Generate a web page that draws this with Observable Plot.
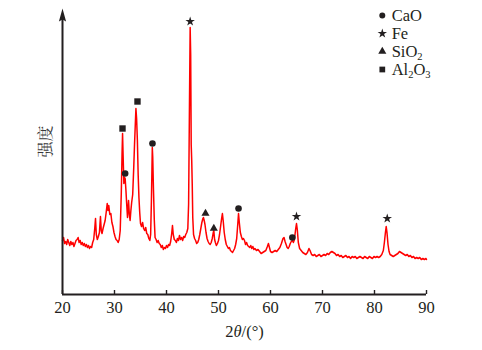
<!DOCTYPE html>
<html>
<head>
<meta charset="utf-8">
<script src="https://cdn.jsdelivr.net/npm/d3@7"></script>
<script src="https://cdn.jsdelivr.net/npm/@observablehq/plot@0.6"></script>
<style>
  html, body { margin: 0; padding: 0; background: #fff; }
  #chart { width: 482px; height: 350px; }
</style>
</head>
<body>
<div id="chart"></div>
<script>
// X-ray diffraction pattern: 2θ (degrees) and intensity (arbitrary units)
const twoTheta = [
  20.0,20.2,20.4,20.6,20.8,21.0,21.2,21.4,21.6,21.8,22.0,22.2,22.4,22.6,22.8,23.0,23.2,23.4,23.6,23.8,
  24.0,24.2,24.4,24.6,24.8,25.0,25.2,25.4,25.6,25.8,26.0,26.2,26.35,26.5,26.7,26.9,27.1,27.3,27.45,27.6,
  27.8,28.0,28.2,28.4,28.6,28.75,28.9,29.1,29.3,29.5,29.7,29.9,30.1,30.3,30.5,30.7,30.9,31.1,31.3,31.45,
  31.55,31.65,31.8,31.95,32.05,32.2,32.35,32.5,32.6,32.7,32.85,33.0,33.15,33.3,33.5,33.7,33.85,34.0,34.12,34.25,
  34.4,34.55,34.7,34.85,35.0,35.2,35.4,35.6,35.8,36.0,36.2,36.4,36.6,36.8,36.95,37.1,37.2,37.27,37.35,37.5,
  37.65,37.8,38.0,38.2,38.4,38.6,38.8,39.0,39.2,39.4,39.6,39.8,40.0,40.2,40.4,40.6,40.8,41.0,41.15,41.3,
  41.5,41.7,41.9,42.1,42.3,42.5,42.7,42.9,43.1,43.3,43.5,43.7,43.9,44.1,44.25,44.4,44.55,44.65,44.75,44.85,
  44.95,45.05,45.2,45.4,45.6,45.8,46.0,46.2,46.4,46.6,46.8,47.0,47.1,47.25,47.4,47.6,47.8,48.0,48.2,48.4,
  48.6,48.8,49.0,49.1,49.25,49.4,49.6,49.8,50.0,50.2,50.4,50.6,50.75,50.9,51.1,51.3,51.5,51.7,51.9,52.1,
  52.3,52.5,52.7,52.9,53.1,53.3,53.5,53.7,53.85,54.0,54.2,54.4,54.6,54.8,55.0,55.2,55.4,55.6,55.8,56.0,
  56.2,56.4,56.6,56.8,57.0,57.3,57.6,57.9,58.2,58.5,58.8,59.1,59.4,59.6,59.8,60.0,60.3,60.6,60.9,61.2,
  61.5,61.8,62.1,62.4,62.6,62.8,63.0,63.2,63.4,63.6,63.8,64.0,64.2,64.4,64.6,64.85,65.0,65.15,65.35,65.6,
  65.9,66.2,66.5,66.8,67.1,67.4,67.6,67.9,68.2,68.5,68.8,69.1,69.4,69.7,70.0,70.3,70.6,70.9,71.2,71.5,
  71.8,72.1,72.4,72.7,73.0,73.3,73.6,73.9,74.2,74.5,74.8,75.1,75.4,75.7,76.0,76.3,76.6,76.9,77.2,77.5,
  77.8,78.1,78.4,78.7,79.0,79.3,79.6,79.9,80.2,80.5,80.8,81.1,81.4,81.7,81.9,82.1,82.25,82.4,82.6,82.8,
  83.0,83.3,83.6,83.9,84.2,84.5,84.8,85.1,85.4,85.7,86.0,86.3,86.6,86.9,87.2,87.5,87.8,88.1,88.4,88.7,
  89.0,89.3,89.6,89.9,90.0
];
const intensity = [
  54,57,51,53,50,55,52,49,53,50,52,48,51,54,55,57,52,54,50,52,
  49,51,48,50,47,49,46,48,47,52,55,66,76,60,55,58,62,78,64,61,
  66,70,74,82,91,84,89,80,81,72,68,62,58,55,54,52,55,64,100,140,
  161,140,111,117,116,104,90,77,86,94,80,74,84,92,100,127,150,170,186,176,
  154,120,97,82,71,68,72,66,64,67,61,60,56,54,60,94,125,147,138,104,
  75,57,55,52,54,51,50,47,49,45,47,46,49,47,50,49,53,61,69,60,
  55,54,52,56,54,59,55,57,54,58,57,60,62,66,90,180,267,240,150,134,
  110,77,60,56,54,51,52,55,60,66,72,76,77,74,70,62,56,53,51,50,
  52,56,62,64,55,52,49,51,54,60,68,76,81,74,62,55,50,48,46,47,
  44,43,42,44,46,50,56,70,81,72,62,58,55,56,54,50,52,49,48,47,
  49,46,48,45,46,44,45,43,41,42,43,44,48,51,47,43,42,43,44,43,
  45,47,51,56,57,53,50,47,46,48,51,53,54,52,55,66,71,65,52,46,
  44,42,41,40,42,46,44,40,39,40,38,39,40,38,39,40,39,41,40,42,
  43,42,41,39,40,38,39,37,38,39,37,38,36,38,37,38,36,37,38,37,
  36,38,37,36,38,37,36,38,37,38,37,38,40,44,52,62,68,62,50,43,
  40,39,38,39,40,41,43,42,41,40,39,40,38,39,37,38,36,37,36,37,
  35,36,35,36,35
];

// Phase markers: peak positions (2θ) and marker heights
const phaseNames = ["CaO", "Fe", "SiO2", "Al2O3"];
const phaseSymbols = ["circle", "star", "triangle", "square"];
const caoTheta = [32.05, 37.3, 53.85, 64.2];
const caoI = [121, 151, 86, 57];
const feTheta = [44.55, 65.0, 82.45];
const feI = [273, 78, 76];
const sio2Theta = [47.5, 49.1];
const sio2I = [81, 66];
const al2o3Theta = [31.54, 34.42];
const al2o3I = [166, 193];

const xTicks = [20, 30, 40, 50, 60, 70, 80, 90];
const xLabel = "2θ/(°)";
const yLabel = "强度";

const spectrum = twoTheta.map((t, i) => ({t, v: intensity[i]}));
const pts = (ts, vs) => ts.map((t, i) => ({t, v: vs[i]}));

const ink = "#231f20";
const serif = "'Liberation Serif', 'Times New Roman', serif";
const cjk = "'Noto Serif CJK SC', 'Noto Sans CJK SC', serif";
const arrowHead = {
  draw(ctx) {
    ctx.moveTo(0, -7);
    ctx.lineTo(3.6, 6);
    ctx.lineTo(0, 4);
    ctx.lineTo(-3.6, 6);
    ctx.closePath();
  }
};

const legendX = 81.5, legendTextX = 83.3, legendTop = 279, legendStep = 18;
const legend = phaseNames.map((name, i) => ({name, symbol: phaseSymbols[i], t: legendX, tt: legendTextX, v: legendTop - i * legendStep}));
const legendR = {circle: 2.6, star: 2.5, triangle: 2.6, square: 3};

const svg = Plot.plot({
  width: 482,
  height: 350,
  marginLeft: 62,
  marginRight: 56,
  marginTop: 8,
  marginBottom: 56,
  style: {fontFamily: serif, fontSize: "16px", color: ink, background: "#fff"},
  x: {domain: [20, 90]},
  y: {domain: [0, 286], axis: null},
  marks: [
    Plot.axisX({ticks: xTicks, tickSize: 0, tickPadding: 7, fontSize: 16.5, label: null, tickFormat: d => String(d), fontFamily: serif}),
    Plot.line(spectrum, {x: "t", y: "v", stroke: "#ff0000", strokeWidth: 1.5}),
    Plot.ruleX(xTicks, {y1: 0, y2: 4, stroke: ink, strokeWidth: 1.4}),
    Plot.ruleY([0], {x1: 20, x2: 90, stroke: ink, strokeWidth: 2}),
    Plot.ruleX([20], {y1: 0, y2: 276, stroke: ink, strokeWidth: 2}),
    Plot.dot([20], {x: d => d, y: () => 279, symbol: arrowHead, r: 4, fill: ink, stroke: null}),
    Plot.dot(pts(caoTheta, caoI), {x: "t", y: "v", symbol: "circle", r: 3.3, fill: ink, stroke: null}),
    Plot.dot(pts(feTheta, feI), {x: "t", y: "v", symbol: "star", r: 3, fill: ink, stroke: null}),
    Plot.dot(pts(sio2Theta, sio2I), {x: "t", y: "v", symbol: "triangle", r: 3, fill: ink, stroke: null}),
    Plot.dot(pts(al2o3Theta, al2o3I), {x: "t", y: "v", symbol: "square", r: 3.6, fill: ink, stroke: null}),
    Plot.dot(legend, {x: "t", y: "v", symbol: "symbol", r: d => legendR[d.symbol], fill: ink, stroke: null}),
    Plot.text(legend, {x: "tt", y: "v", text: "name", textAnchor: "start", lineAnchor: "middle", fontSize: 16.5, fill: ink, fontFamily: serif}),
    Plot.text([xLabel], {frameAnchor: "bottom", dy: 42, lineAnchor: "bottom", fontSize: 16.5, fill: ink, fontFamily: serif}),
    Plot.text([yLabel], {frameAnchor: "left", y: () => 137, dx: -17, rotate: -90, fontSize: 16, fill: "#3a3a3a",
      fontFamily: cjk})
  ]
});

// serif for all Latin text, subscripts in chemical formulas and italic θ
const ns = "http://www.w3.org/2000/svg";
d3.select(svg).selectAll("text").each(function () {
  const t = this.textContent;
  this.style.fontFamily = t === yLabel ? cjk : serif;
  const parts = t === "SiO2" ? [["SiO"], ["2", "sub"]]
    : t === "Al2O3" ? [["Al"], ["2", "sub"], ["O"], ["3", "sub"]]
    : t === xLabel ? [["2"], ["θ", "it"], ["/(°)"]]
    : null;
  if (!parts) return;
  this.textContent = "";
  let shifted = false;
  for (const [s, kind] of parts) {
    const ts = document.createElementNS(ns, "tspan");
    ts.textContent = s;
    if (kind === "sub") {
      ts.setAttribute("font-size", "10.5");
      ts.setAttribute("dy", "3.5");
      shifted = true;
    } else if (shifted) {
      ts.setAttribute("dy", "-3.5");
      shifted = false;
    }
    if (kind === "it") ts.setAttribute("font-style", "italic");
    this.appendChild(ts);
  }
});

document.getElementById("chart").appendChild(svg);
</script>
</body>
</html>
